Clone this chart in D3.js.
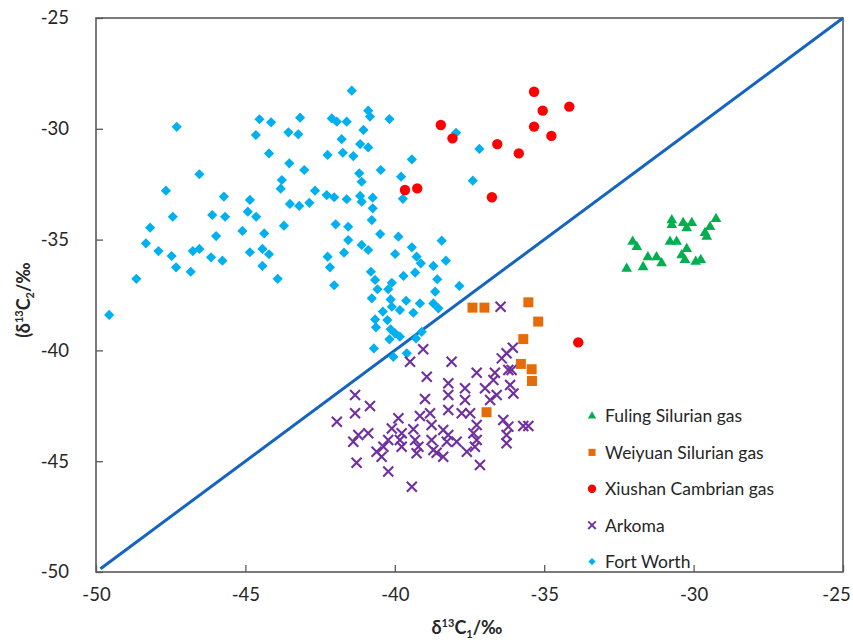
<!DOCTYPE html>
<html>
<head>
<meta charset="utf-8">
<script src="https://cdn.jsdelivr.net/npm/d3@7"></script>
<style>
  body { margin: 0; background: #fff; }
  svg { font-family: Lato, "Open Sans", sans-serif; }
</style>
</head>
<body>
<svg id="viz"></svg>
<script>
// Global Variables
const width = 853;
const height = 642;
const margin = { top: 18, right: 10, bottom: 70, left: 96 };
const svg = d3.select("#viz").attr("width", width).attr("height", height);

const xTicks = [-50, -45, -40, -35, -30, -25];
const yTicks = [-50, -45, -40, -35, -30, -25];
const seriesNames = ["Fuling Silurian gas", "Weiyuan Silurian gas", "Xiushan Cambrian gas", "Arkoma", "Fort Worth"];

// [δ13C1, δ13C2]
const fuling = [
  [-30.73, -34.12], [-30.73, -34.34], [-30.35, -34.25], [-30.06, -34.25], [-30.23, -34.48],
  [-29.25, -34.07], [-29.45, -34.43], [-29.62, -34.70], [-29.56, -34.87], [-32.04, -35.09],
  [-31.90, -35.33], [-30.79, -35.09], [-30.57, -35.09], [-30.23, -35.42], [-30.40, -35.70],
  [-30.29, -35.92], [-31.53, -35.79], [-31.24, -35.79], [-31.07, -36.06], [-31.69, -36.24],
  [-32.24, -36.31], [-29.93, -36.00], [-29.76, -35.92]
];

const weiyuan = [
  [-37.40, -38.07], [-37.00, -38.07], [-35.53, -37.83], [-35.20, -38.70], [-35.70, -39.49],
  [-35.78, -40.61], [-35.42, -40.85], [-35.41, -41.38], [-36.93, -42.79]
];

const xiushan = [
  [-35.34, -28.33], [-35.05, -29.18], [-34.16, -29.00], [-35.34, -29.90], [-34.76, -30.32],
  [-38.46, -29.83], [-38.07, -30.43], [-36.57, -30.69], [-35.85, -31.11], [-36.75, -33.09],
  [-39.66, -32.76], [-39.25, -32.69], [-33.86, -39.64]
];

const arkoma = [
  [-36.46, -38.03], [-39.05, -39.95], [-39.49, -40.51], [-38.10, -40.51], [-36.42, -40.36],
  [-36.26, -40.13], [-36.05, -39.88], [-38.93, -41.19], [-37.26, -41.01], [-36.65, -41.01],
  [-36.20, -40.88], [-36.09, -40.88], [-41.33, -42.01], [-38.21, -41.48], [-38.21, -42.01],
  [-37.65, -41.71], [-36.98, -41.71], [-36.70, -41.34], [-36.14, -41.56], [-36.03, -41.94],
  [-36.59, -42.01], [-36.81, -42.24], [-38.99, -42.19], [-37.65, -42.24], [-40.83, -42.51],
  [-41.33, -42.84], [-41.94, -43.22], [-38.21, -42.69], [-37.76, -42.84], [-37.48, -42.84],
  [-38.82, -42.84], [-39.16, -42.96], [-39.88, -43.06], [-41.22, -43.82], [-40.89, -43.74],
  [-41.39, -44.12], [-40.10, -43.52], [-39.77, -43.74], [-39.38, -43.56], [-38.77, -43.37],
  [-38.38, -43.59], [-37.26, -43.37], [-37.37, -43.74], [-37.26, -44.04], [-37.32, -44.35],
  [-36.37, -43.14], [-36.20, -43.44], [-36.26, -43.82], [-36.26, -44.19], [-35.70, -43.41],
  [-35.53, -43.41], [-40.22, -44.04], [-40.38, -44.35], [-40.61, -44.57], [-40.44, -44.80],
  [-39.83, -44.04], [-39.77, -44.35], [-39.32, -44.04], [-39.21, -44.35], [-39.27, -44.64],
  [-38.77, -44.04], [-38.21, -43.82], [-38.26, -44.12], [-37.93, -44.12], [-37.59, -44.57],
  [-38.71, -44.49], [-38.60, -44.62], [-38.38, -44.80], [-41.28, -45.07], [-40.22, -45.47],
  [-37.15, -45.17], [-39.43, -46.15]
];

const fortWorth = [
  [-47.30, -29.91], [-44.53, -29.57], [-44.14, -29.71], [-43.17, -29.50], [-44.65, -30.28],
  [-43.56, -30.16], [-43.23, -30.25], [-44.21, -31.11], [-43.53, -31.56], [-43.03, -31.86],
  [-46.54, -32.05], [-43.78, -32.31], [-43.82, -32.70], [-47.66, -32.79], [-45.72, -33.06],
  [-44.85, -33.21], [-43.51, -33.39], [-43.20, -33.48], [-42.86, -33.34], [-44.92, -33.74],
  [-46.11, -33.89], [-45.68, -33.97], [-47.43, -33.97], [-44.64, -33.97], [-48.19, -34.46],
  [-43.71, -34.37], [-45.10, -34.61], [-44.37, -34.72], [-45.98, -34.84], [-48.33, -35.17],
  [-47.91, -35.52], [-47.47, -35.74], [-46.76, -35.52], [-46.54, -35.42], [-44.85, -35.57],
  [-44.43, -35.42], [-44.21, -35.66], [-46.15, -35.80], [-45.77, -35.95], [-47.32, -36.25],
  [-46.83, -36.45], [-44.43, -36.19], [-43.92, -36.77], [-48.65, -36.77], [-49.56, -38.40],
  [-42.11, -29.53], [-41.94, -29.68], [-42.25, -31.18], [-41.78, -30.47], [-42.67, -32.79],
  [-42.28, -32.99], [-42.03, -33.09], [-41.98, -34.31], [-42.25, -35.77], [-42.17, -36.25],
  [-42.03, -37.06], [-41.44, -28.28], [-41.61, -29.68], [-40.89, -29.18], [-40.83, -29.45],
  [-40.18, -29.56], [-41.05, -30.05], [-41.16, -30.69], [-40.89, -30.84], [-41.74, -31.08],
  [-41.39, -31.23], [-39.43, -31.38], [-40.47, -31.86], [-41.19, -32.01], [-41.11, -32.39],
  [-39.79, -32.16], [-41.61, -33.18], [-41.16, -33.03], [-41.11, -33.29], [-40.74, -33.11],
  [-39.73, -33.16], [-40.74, -33.59], [-40.77, -34.12], [-41.56, -34.42], [-40.49, -34.75],
  [-41.56, -35.02], [-39.88, -34.87], [-41.11, -35.24], [-40.89, -35.47], [-41.70, -35.59],
  [-39.43, -35.35], [-39.99, -35.65], [-39.27, -35.77], [-39.13, -36.07], [-38.43, -35.05],
  [-39.32, -36.49], [-38.71, -36.19], [-38.29, -35.95], [-40.80, -36.45], [-40.66, -36.82],
  [-39.71, -36.64], [-40.10, -36.95], [-40.22, -37.24], [-40.58, -37.24], [-38.58, -36.79],
  [-38.65, -37.35], [-37.84, -37.09], [-40.77, -37.65], [-40.14, -37.70], [-39.62, -37.76],
  [-39.16, -37.88], [-38.71, -37.88], [-38.54, -38.10], [-40.40, -38.25], [-39.83, -38.18],
  [-39.38, -38.30], [-40.25, -38.63], [-40.66, -38.60], [-40.63, -38.96], [-40.14, -39.05],
  [-39.99, -39.23], [-39.83, -39.38], [-39.29, -39.46], [-40.18, -39.50], [-40.70, -39.91],
  [-40.10, -38.03], [-39.10, -39.16], [-40.05, -40.29], [-39.60, -40.13], [-37.95, -30.18],
  [-37.17, -30.91], [-37.39, -32.34]
];

const oneToOne = [[-49.85, -49.85], [-25, -25]];

const colors = {
  fuling: "#00b050",
  weiyuan: "#e46c0a",
  xiushan: "#ff0000",
  arkoma: "#7030a0",
  fortWorth: "#00b0f0",
  line: "#1565c0",
  frame: "#595959"
};

// Scales
const x = d3.scaleLinear().domain([-50, -25]).range([margin.left, width - margin.right]);
const y = d3.scaleLinear().domain([-50, -25]).range([height - margin.bottom, margin.top]);

const plotW = width - margin.left - margin.right;
const plotH = height - margin.top - margin.bottom;

// Axes (inward ticks, plain hyphen minus)
svg.append("g")
  .attr("transform", `translate(0,${height - margin.bottom})`)
  .call(d3.axisBottom(x).tickValues(xTicks).tickFormat(d => String(d)).tickSize(-7).tickPadding(16))
  .call(g => g.select(".domain").remove())
  .call(g => g.selectAll(".tick line").attr("stroke", colors.frame).attr("stroke-width", 1.3))
  .call(g => g.selectAll(".tick text").attr("font-size", 18.5).attr("fill", "#262626").attr("font-family", "Lato, sans-serif"))
  .call(g => g.selectAll(".tick text").filter(d => d === -25).attr("dx", -7));

svg.append("g")
  .attr("transform", `translate(${margin.left},0)`)
  .call(d3.axisLeft(y).tickValues(yTicks).tickFormat(d => String(d)).tickSize(-7).tickPadding(27))
  .call(g => g.select(".domain").remove())
  .call(g => g.selectAll(".tick line").attr("stroke", colors.frame).attr("stroke-width", 1.3))
  .call(g => g.selectAll(".tick text").attr("font-size", 18.5).attr("fill", "#262626").attr("font-family", "Lato, sans-serif"));

// Frame
svg.append("rect")
  .attr("x", margin.left).attr("y", margin.top)
  .attr("width", plotW).attr("height", plotH)
  .attr("fill", "none").attr("stroke", colors.frame).attr("stroke-width", 1.6);

// 1:1 line
svg.append("path")
  .datum(oneToOne)
  .attr("fill", "none")
  .attr("stroke", colors.line)
  .attr("stroke-width", 3)
  .attr("d", d3.line().x(d => x(d[0])).y(d => y(d[1])));

// Markers
const diamond = d3.symbol().type(d3.symbolSquare).size(52)();
const triangle = d3.symbol().type(d3.symbolTriangle).size(50)();
const square = d3.symbol().type(d3.symbolSquare).size(100)();
const circle = d3.symbol().type(d3.symbolCircle).size(85)();
const cross = "M-5,-5L5,5M-5,5L5,-5";

svg.append("g").selectAll("path")
  .data(fortWorth)
  .enter().append("path")
  .attr("d", diamond)
  .attr("transform", d => `translate(${x(d[0])},${y(d[1])}) rotate(45)`)
  .attr("fill", colors.fortWorth);

svg.append("g").selectAll("path")
  .data(arkoma)
  .enter().append("path")
  .attr("d", cross)
  .attr("transform", d => `translate(${x(d[0])},${y(d[1])})`)
  .attr("fill", "none")
  .attr("stroke", colors.arkoma)
  .attr("stroke-width", 2.1);

svg.append("g").selectAll("path")
  .data(weiyuan)
  .enter().append("path")
  .attr("d", square)
  .attr("transform", d => `translate(${x(d[0])},${y(d[1])})`)
  .attr("fill", colors.weiyuan);

svg.append("g").selectAll("path")
  .data(xiushan)
  .enter().append("path")
  .attr("d", circle)
  .attr("transform", d => `translate(${x(d[0])},${y(d[1])})`)
  .attr("fill", colors.xiushan);

svg.append("g").selectAll("path")
  .data(fuling)
  .enter().append("path")
  .attr("d", triangle)
  .attr("transform", d => `translate(${x(d[0])},${y(d[1])})`)
  .attr("fill", colors.fuling);

// Legend
const legendItems = [
  { name: seriesNames[0], d: d3.symbol().type(d3.symbolTriangle).size(30)(), fill: colors.fuling },
  { name: seriesNames[1], d: d3.symbol().type(d3.symbolSquare).size(50)(), fill: colors.weiyuan },
  { name: seriesNames[2], d: d3.symbol().type(d3.symbolCircle).size(55)(), fill: colors.xiushan },
  { name: seriesNames[3], d: "M-3.8,-3.8L3.8,3.8M-3.8,3.8L3.8,-3.8", stroke: colors.arkoma },
  { name: seriesNames[4], d: d3.symbol().type(d3.symbolSquare).size(26)(), fill: colors.fortWorth, rot: 45 }
];

const legend = svg.append("g").attr("transform", "translate(592,416)");
const row = legend.selectAll("g")
  .data(legendItems)
  .enter().append("g")
  .attr("transform", (d, i) => `translate(0,${i * 36.4})`);
row.append("path")
  .attr("d", d => d.d)
  .attr("transform", d => d.rot ? `rotate(${d.rot})` : null)
  .attr("fill", d => d.fill || "none")
  .attr("stroke", d => d.stroke || null)
  .attr("stroke-width", d => d.stroke ? 1.8 : null);
row.append("text")
  .attr("x", 13)
  .attr("dy", "0.36em")
  .attr("font-size", 17.5)
  .attr("fill", "#262626")
  .text(d => d.name);

// Axis titles
const xTitle = svg.append("text")
  .attr("x", 467).attr("y", 634)
  .attr("text-anchor", "middle")
  .attr("font-size", 18).attr("font-weight", "bold").attr("fill", "#262626");
xTitle.append("tspan").text("δ");
xTitle.append("tspan").attr("font-size", 11).attr("dy", -7).text("13");
xTitle.append("tspan").attr("dy", 7).text("C");
xTitle.append("tspan").attr("font-size", 11).attr("dy", 4).text("1");
xTitle.append("tspan").attr("dy", -4).text("/‰");

const yTitle = svg.append("text")
  .attr("transform", "translate(30,300) rotate(-90)")
  .attr("text-anchor", "middle")
  .attr("font-size", 18).attr("font-weight", "bold").attr("fill", "#262626");
yTitle.append("tspan").text("(δ");
yTitle.append("tspan").attr("font-size", 11).attr("dy", -7).text("13");
yTitle.append("tspan").attr("dy", 7).text("C");
yTitle.append("tspan").attr("font-size", 11).attr("dy", 4).text("2");
yTitle.append("tspan").attr("dy", -4).text("/‰");
</script>
</body>
</html>
